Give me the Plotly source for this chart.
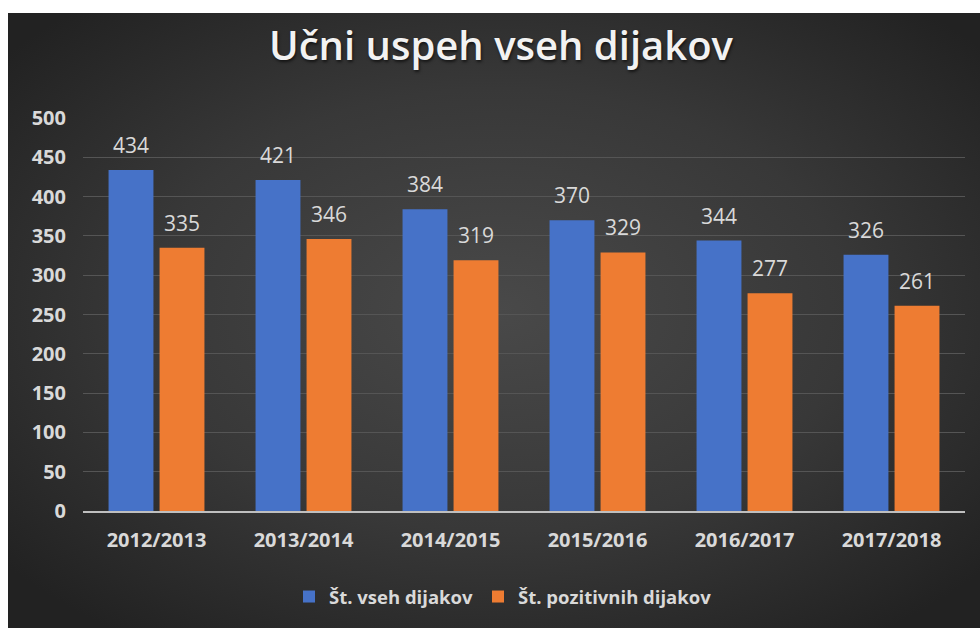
import base64
import plotly.graph_objects as go

categories = ["2012/2013", "2013/2014", "2014/2015", "2015/2016", "2016/2017", "2017/2018"]
vseh = [434, 421, 384, 370, 344, 326]
pozitivnih = [335, 346, 319, 329, 277, 261]
series_names = ["Št. vseh dijakov", "Št. pozitivnih dijakov"]
title_text = "Učni uspeh vseh dijakov"

W, H = 980, 628
ML, MR, MT, MB = 83, 15, 118, 117
PW, PH = W - ML - MR, H - MT - MB

BLUE = "#4672c8"
ORANGE = "#ee7c32"
TXT = "#d9d9d9"
FONT = "Open Sans"

svg = f'''<svg xmlns="http://www.w3.org/2000/svg" width="972" height="615" viewBox="0 0 972 615" preserveAspectRatio="none">
<defs><radialGradient id="g" cx="50%" cy="48%" r="65%" fx="50%" fy="48%">
<stop offset="0%" stop-color="#494949"/><stop offset="55%" stop-color="#383838"/><stop offset="100%" stop-color="#222222"/>
</radialGradient></defs><rect x="0" y="0" width="972" height="615" fill="url(#g)"/></svg>'''
src = "data:image/svg+xml;base64," + base64.b64encode(svg.encode()).decode()

fig = go.Figure()
fig.add_trace(go.Bar(x=categories, y=vseh, name=series_names[0], marker=dict(color=BLUE, line=dict(width=0))))
fig.add_trace(go.Bar(x=categories, y=pozitivnih, name=series_names[1], marker=dict(color=ORANGE, line=dict(width=0))))

bargap = 0.306
slot = (1 - bargap) / 2
shift_px = slot / 2 * (PW / len(categories))
for vals, sgn in ((vseh, -1), (pozitivnih, 1)):
    for c, v in zip(categories, vals):
        fig.add_annotation(x=c, y=v, text=str(v), showarrow=False, xshift=sgn * shift_px, yshift=9,
                           yanchor="bottom", font=dict(family=FONT, size=21, color=TXT))

fig.add_layout_image(dict(source=src, xref="paper", yref="paper",
                          x=(8 - ML) / PW, y=1 + (MT - 13) / PH,
                          sizex=(W - 8) / PW + 0.01, sizey=(H - 13) / PH + 0.01,
                          xanchor="left", yanchor="top", sizing="stretch", layer="below"))

# white page margins (top and left strips)
fig.add_shape(type="rect", xref="paper", yref="paper", x0=-ML / PW, x1=1 + MR / PW + 0.01,
              y0=1 + (MT - 13) / PH, y1=1 + MT / PH + 0.01, fillcolor="white", line=dict(width=0), layer="below")
fig.add_shape(type="rect", xref="paper", yref="paper", x0=-ML / PW - 0.01, x1=(8 - ML) / PW,
              y0=-MB / PH - 0.01, y1=1 + MT / PH + 0.01, fillcolor="white", line=dict(width=0), layer="below")

fig.update_layout(
    width=W, height=H,
    margin=dict(l=ML, r=MR, t=MT, b=MB),
    paper_bgcolor="#232323", plot_bgcolor="rgba(0,0,0,0)",
    barmode="group", bargap=bargap, bargroupgap=0.12,
    title=dict(text=title_text, x=501 / W, xref="container", xanchor="center", y=1 - 46 / H, yref="container",
               yanchor="middle",
               font=dict(family=FONT, size=40, color="#f2f2f2", weight=600, shadow="1px 2px 3px rgba(0,0,0,0.6)")),
    font=dict(family=FONT, color=TXT),
    showlegend=True,
    legend=dict(orientation="h", x=(503 - ML) / PW, xanchor="center", y=-(597 - (MT + PH)) / PH, yanchor="middle",
                font=dict(family=FONT, size=18.5, color=TXT, weight="bold"), bgcolor="rgba(0,0,0,0)", itemwidth=30),
    xaxis=dict(showgrid=False, showline=True, linecolor="#bfbfbf", linewidth=2, ticks="",
               tickfont=dict(family=FONT, size=20, color=TXT, weight="bold"), ticklabelstandoff=10, zeroline=False),
    yaxis=dict(range=[0, 500], dtick=50, showgrid=True, gridcolor="#555555", gridwidth=1, zeroline=False,
               showline=False, ticks="", tickfont=dict(family=FONT, size=20, color=TXT, weight="bold"),
               ticklabelstandoff=16),
)

fig.write_html("out.html", config={"displayModeBar": False},
               post_script="document.body.style.margin='0';document.body.style.padding='0';")
